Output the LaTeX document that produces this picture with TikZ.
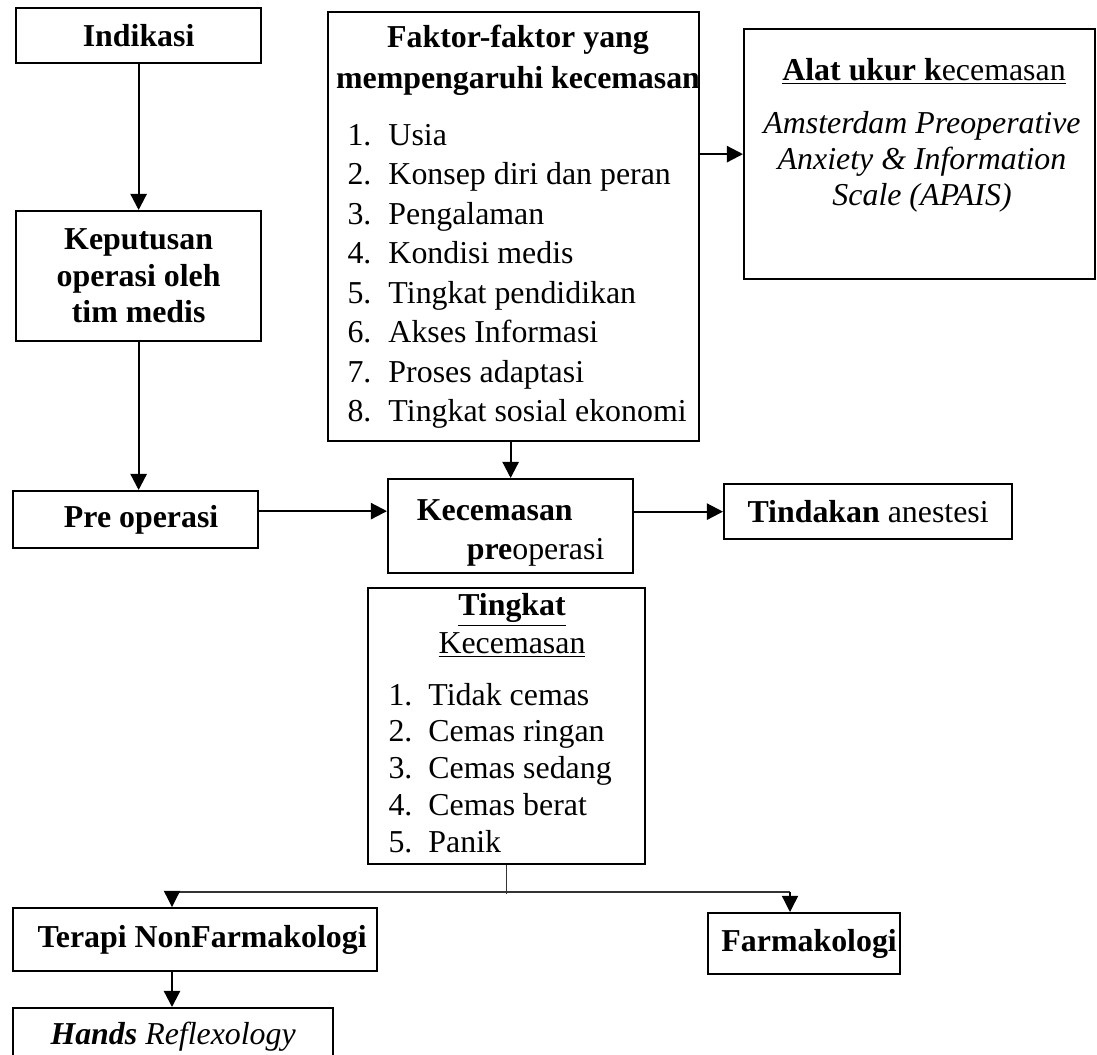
\documentclass[tikz,border=0pt]{standalone}
\usepackage{fontspec}
\setmainfont{Liberation Serif}
\usetikzlibrary{arrows.meta,positioning,calc}

\newcommand{\itm}[3][16.4pt]{\makebox[#1][l]{#2.}#3}

\begin{document}
\begin{tikzpicture}[
x=0.4pt, y=-0.4pt,
font=\fontsize{12.75}{14.4}\selectfont,
rect/.style n args={4}{anchor=north west, at={(#1,#2)},
              minimum width={(#3-#1)*0.4pt},
              minimum height={(#4-#2)*0.4pt}},
box/.style = {draw, line width=0.9pt, inner sep=0pt, align=center},
hd/.style = {box, font=\fontsize{12.75}{14.6}\selectfont\bfseries},
bftxt/.style = {inner sep=0pt, anchor=base,
              font=\fontsize{12.75}{14.6}\selectfont\bfseries},
txt/.style = {inner sep=0pt, anchor=base},
lst/.style = {inner sep=0pt, anchor=base west},
arr/.style = {line width=0.9pt, -{Triangle[length=6.5pt,width=6.5pt]}},
thinline/.style = {line width=0.5pt, black!80}
                ]
\useasboundingbox (0,0) rectangle (1097,1054);

%% left column
\node[hd, rect={15}{7}{260}{62}] (ind) {Indikasi};
\node[hd, rect={15}{210}{260}{340}] (kep) {Keputusan\\operasi oleh\\tim medis};
\node[hd, rect={12}{490}{257}{547}] (pre) {\hspace*{4.4pt}Pre operasi};

%% faktor box
\node[box, rect={327}{11}{698}{440}] (fak) {};
\node[bftxt] (fakt1) at (518,47) {Faktor-faktor yang};
\node[bftxt] (fakt2) at (518,88) {mempengaruhi kecemasan};
\node[lst] (fakl) at (347,145) {\parbox[t]{150pt}{\baselineskip=15.8pt
  \itm{1}{Usia}\\
  \itm{2}{Konsep diri dan peran}\\
  \itm{3}{Pengalaman}\\
  \itm{4}{Kondisi medis}\\
  \itm{5}{Tingkat pendidikan}\\
  \itm{6}{Akses Informasi}\\
  \itm{7}{Proses adaptasi}\\
  \itm{8}{Tingkat sosial ekonomi}}};

%% alat ukur
\node[box, rect={743}{28}{1094}{278}] (alat) {};
\node[txt] (alatt) at (924,80) {\underline{\textbf{Alat ukur k}ecemasan}};
\node[txt] (alatx) at (922,133) {\parbox[t]{150pt}{\centering\itshape\baselineskip=14.4pt
  Amsterdam Preoperative\\Anxiety \& Information\\Scale (APAIS)}};

%% middle row
\node[hd, rect={387}{478}{632}{572}, align=left,
      font=\fontsize{12.75}{15.6}\selectfont\bfseries] (kec)
      {\rule{0pt}{13.5pt}Kecemasan\\\hspace*{20pt}pre\textmd{operasi}};
\node[box, rect={723}{483}{1011}{538}] (tin) {\textbf{Tindakan} anestesi};

%% tingkat
\node[box, rect={367}{587}{644}{863}] (tkt) {};
\node[txt] (tktt1) at (512,615) {\underline{\textbf{Tingkat}}};
\node[txt] (tktt2) at (512,653) {\underline{Kecemasan}};
\node[lst] (tktl) at (388,705) {\parbox[t]{110pt}{\baselineskip=14.7pt
  \itm[16pt]{1}{Tidak cemas}\\
  \itm[16pt]{2}{Cemas ringan}\\
  \itm[16pt]{3}{Cemas sedang}\\
  \itm[16pt]{4}{Cemas berat}\\
  \itm[16pt]{5}{Panik}}};

%% bottom
\node[hd, rect={12}{907}{376}{970}] (ter) {\hspace*{5.6pt}Terapi NonFarmakologi};
\node[hd, rect={707}{912}{899}{973}] (far) {\hspace*{4pt}Farmakologi};
\node[box, rect={12}{1007}{332}{1065}] (han) {\textbf{\textit{Hands}} \textit{Reflexology}};

%% connectors
\draw[arr] (ind.south) -- (kep.north);
\draw[arr] (kep.south) -- (kep.south |- pre.north);
\coordinate (p1) at ([yshift=3.4pt]pre.east);
\draw[arr] (p1) -- (p1 -| kec.west);
\draw[arr] (tin.west -| kec.east) -- (tin.west);
\draw[arr] (fak.south -| kec.north) -- (kec.north);
\coordinate (f1) at ([yshift=29pt]fak.east);
\draw[arr] (f1) -- (f1 -| alat.west);

\coordinate (sp) at ([yshift=-11.6pt]tkt.south);
\coordinate (sl) at (172,892);
\coordinate (sr) at (790,892);
\draw[thinline] (tkt.south) -- (sp);
\draw[thinline] (sl) -- (sr);
\draw[arr, line width=0.5pt] (sl) -- (sl |- ter.north);
\draw[arr, line width=0.5pt] (sr) -- (sr |- far.north);
\draw[arr] (sl |- ter.south) -- (sl |- han.north);
%%
\end{tikzpicture}
\end{document}
